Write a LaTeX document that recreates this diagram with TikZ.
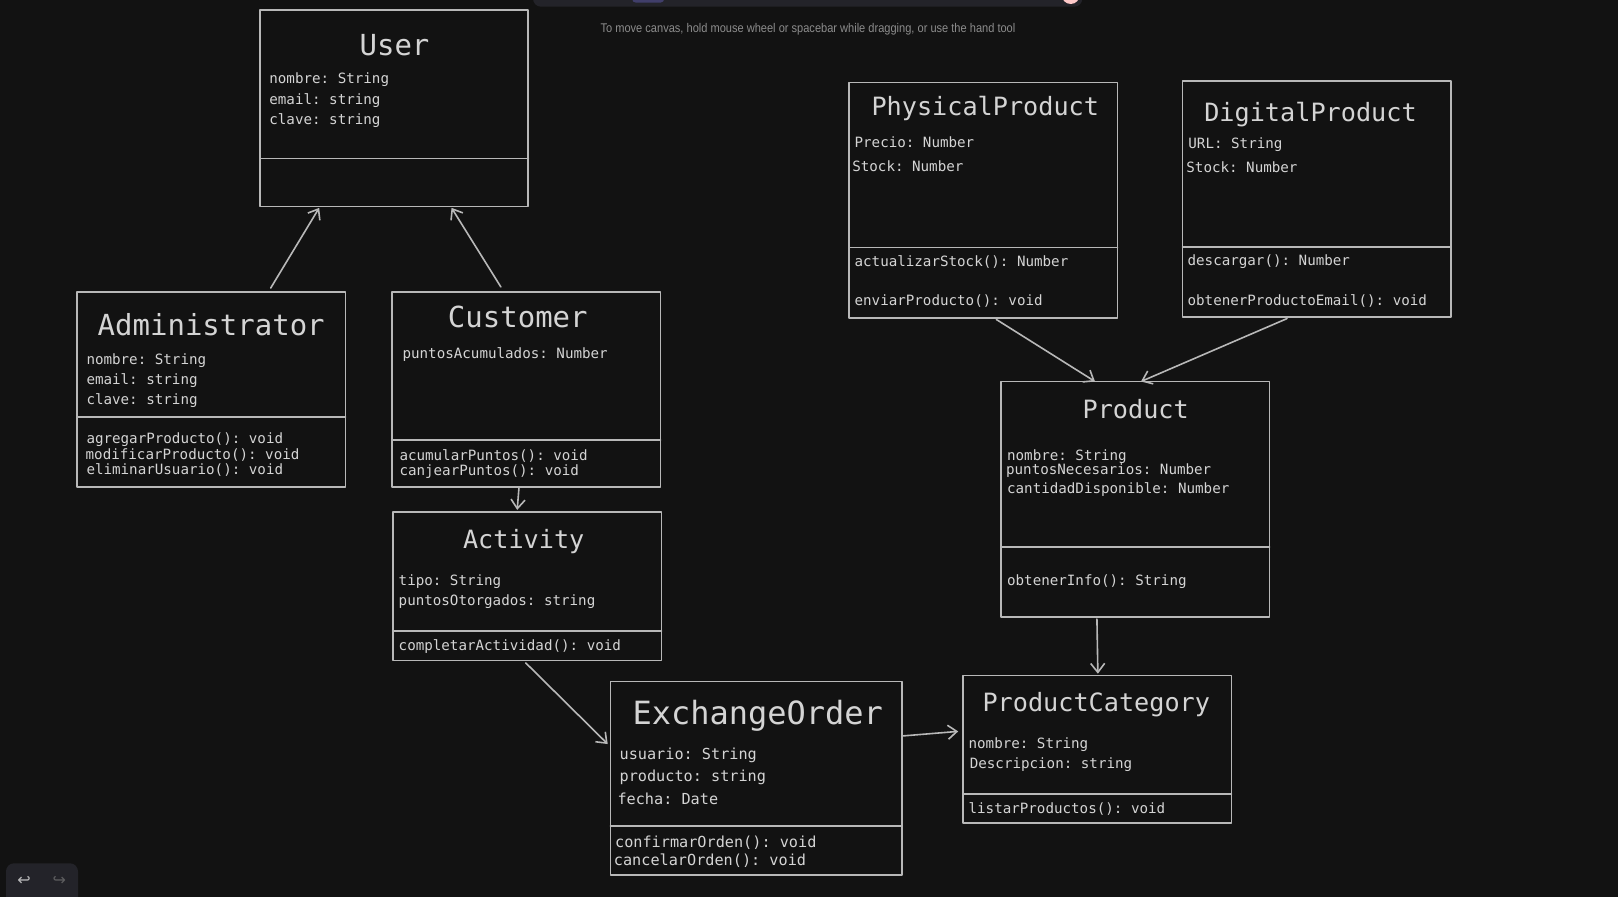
\documentclass[tikz,border=0pt]{standalone}
\usepackage{fontspec}
\setmainfont{Liberation Sans}
\setmonofont{DejaVu Sans Mono}
\newfontfamily\uifont{DejaVu Sans}
\usepackage{graphicx}
\usetikzlibrary{arrows.meta, calc}

\definecolor{canvas}{HTML}{121212}
\definecolor{uipanel}{HTML}{232329}
\definecolor{uiaccent}{HTML}{403E6A}
\definecolor{uipink}{HTML}{FFC9C9}
\definecolor{boxline}{HTML}{B8B8B8}
\definecolor{textgray}{HTML}{D4D4D4}
\definecolor{hintgray}{HTML}{8C8C8C}

\newcommand{\titlefont}{\fontsize{14.5}{16}\selectfont\ttfamily}
\newcommand{\subtitlefont}{\fontsize{12.6}{14}\selectfont\ttfamily}
\newcommand{\ordertitlefont}{\fontsize{16}{18}\selectfont\ttfamily}
\newcommand{\attrfont}{\fontsize{7.1}{8}\selectfont\ttfamily}
\newcommand{\orderattrfont}{\fontsize{7.6}{9}\selectfont\ttfamily}

\begin{document}
\begin{tikzpicture}[x=0.5pt, y=-0.5pt, >={Straight Barb[length=4.5pt,width=7pt]},
	line cap=round, line join=round,
	classbox/.style={draw=boxline, line width=0.9pt, outer sep=0pt, inner sep=0pt, minimum width=134.2pt},
	divider/.style={draw=boxline, line width=0.8pt},
	title/.style={anchor=base, inner sep=0pt, text=textgray, font=\subtitlefont},
	attr/.style={anchor=base west, inner sep=0pt, text=textgray, font=\attrfont},
	assoc/.style={->, draw=boxline, line width=0.8pt}]

% canvas
\fill[canvas] (0,0) rectangle (1618,897);
\useasboundingbox (0,0) rectangle (1618,897);

%========================
% editor chrome
%========================
\fill[uipanel, rounded corners=4pt] (533,-20) rectangle (1082.3,6.7);
\fill[uiaccent, rounded corners=2pt] (632,-10) rectangle (664.3,2.7);
\fill[uipink] (1070.7,-5) circle[radius=9];
\node[anchor=base, inner sep=0pt, text=hintgray] (hint) at (808,32.3)
	{\resizebox{207.4pt}{\height}{\fontsize{6.3}{7}\selectfont To move canvas, hold mouse wheel or spacebar while dragging, or use the hand tool}};
\fill[uipanel, rounded corners=4pt] (6,863.3) rectangle (78,910);
\node[text=textgray!85!uipanel, font=\uifont\fontsize{8}{9}\selectfont] (undo) at (24,880.7) {↩};
\node[text=hintgray!55!uipanel, font=\uifont\fontsize{8}{9}\selectfont] (redo) at (59.3,880.7) {↪};

%========================
% User hierarchy
%========================
\node[classbox, minimum height=98.1pt] (user) at (394.15,108.4) {};
\draw[divider] (user.west |- 0,158.7) -- (user.east |- 0,158.7);
\node[title, font=\titlefont] (user-t) at (394.5,55.7) {User};
\node[attr] (user-a1) at (269,83.3) {nombre: String};
\node[attr] (user-a2) at (269,104.3) {email: string};
\node[attr] (user-a3) at (269,124.3) {clave: string};

\node[classbox, minimum height=97.65pt] (admin) at (211.3,389.65) {};
\draw[divider] (admin.west |- 0,416.8) -- (admin.east |- 0,416.8);
\node[title, font=\titlefont] (admin-t) at (211.2,336) {Administrator};
\node[attr] (admin-a1) at (86.1,364.3) {nombre: String};
\node[attr] (admin-a2) at (86.1,384.3) {email: string};
\node[attr] (admin-a3) at (86.1,405) {clave: string};
\node[attr] (admin-m1) at (86.1,444) {agregarProducto(): void};
\node[attr] (admin-m2) at (85.3,459.3) {modificarProducto(): void};
\node[attr] (admin-m3) at (86.1,475) {eliminarUsuario(): void};

\node[classbox, minimum height=97.65pt] (customer) at (526.3,389.65) {};
\draw[divider] (customer.west |- 0,440.3) -- (customer.east |- 0,440.3);
\node[title, font=\titlefont] (customer-t) at (517.8,327.7) {Customer};
\node[attr] (customer-a1) at (402.2,359) {puntosAcumulados: Number};
\node[attr] (customer-m1) at (399.1,460.7) {acumularPuntos(): void};
\node[attr] (customer-m2) at (399.1,475.7) {canjearPuntos(): void};

\node[classbox, minimum height=74.1pt] (activity) at (527.3,586.4) {};
\draw[divider] (activity.west |- 0,631) -- (activity.east |- 0,631);
\node[title] (activity-t) at (523.7,548.3) {Activity};
\node[attr] (activity-a1) at (398.3,586) {tipo: String};
\node[attr] (activity-a2) at (398.3,606) {puntosOtorgados: string};
\node[attr] (activity-m1) at (398.3,650.7) {completarActividad(): void};

%========================
% Orders and products
%========================
\node[classbox, minimum width=145.8pt, minimum height=96.75pt] (exchange) at (756.2,778.25) {};
\draw[divider] (exchange.west |- 0,825.7) -- (exchange.east |- 0,825.7);
\node[title, font=\ordertitlefont] (exchange-t) at (757.8,725) {ExchangeOrder};
\node[attr, font=\orderattrfont] (exchange-a1) at (619.2,759.3) {usuario: String};
\node[attr, font=\orderattrfont] (exchange-a2) at (619.2,781.7) {producto: string};
\node[attr, font=\orderattrfont] (exchange-a3) at (617.1,805) {fecha: Date};
\node[attr, font=\orderattrfont] (exchange-m1) at (614.7,847.3) {confirmarOrden(): void};
\node[attr, font=\orderattrfont] (exchange-m2) at (613.5,865) {cancelarOrden(): void};

\node[classbox, minimum height=73.9pt] (category) at (1097.2,749.4) {};
\draw[divider] (category.west |- 0,794) -- (category.east |- 0,794);
\node[title] (category-t) at (1096.3,711.7) {ProductCategory};
\node[attr] (category-a1) at (968.2,748.3) {nombre: String};
\node[attr] (category-a2) at (969.4,768.3) {Descripcion: string};
\node[attr] (category-m1) at (968.2,813.3) {listarProductos(): void};

\node[classbox, minimum height=117.9pt] (product) at (1135.3,499.4) {};
\draw[divider] (product.west |- 0,546.8) -- (product.east |- 0,546.8);
\node[title] (product-t) at (1135.7,418.3) {Product};
\node[attr] (product-a1) at (1006.7,460.7) {nombre: String};
\node[attr] (product-a2) at (1005.7,474.3) {puntosNecesarios: Number};
\node[attr] (product-a3) at (1006.7,494) {cantidadDisponible: Number};
\node[attr] (product-m1) at (1006.7,586) {obtenerInfo(): String};

\node[classbox, minimum height=117.85pt] (physical) at (983.25,200.35) {};
\draw[divider] (physical.west |- 0,247.7) -- (physical.east |- 0,247.7);
\node[title] (physical-t) at (985.3,115.7) {PhysicalProduct};
\node[attr] (physical-a1) at (854.2,147.7) {Precio: Number};
\node[attr] (physical-a2) at (851.9,171.7) {Stock: Number};
\node[attr] (physical-m1) at (854.2,266.7) {actualizarStock(): Number};
\node[attr] (physical-m2) at (854.2,306) {enviarProducto(): void};

\node[classbox, minimum height=117.9pt] (digital) at (1316.75,199.1) {};
\draw[divider] (digital.west |- 0,246.8) -- (digital.east |- 0,246.8);
\node[title] (digital-t) at (1310.5,121.7) {DigitalProduct};
\node[attr] (digital-a1) at (1188,149) {URL: String};
\node[attr] (digital-a2) at (1186,172.7) {Stock: Number};
\node[attr] (digital-m1) at (1187.2,265.7) {descargar(): Number};
\node[attr] (digital-m2) at (1187.2,305.7) {obtenerProductoEmail(): void};

%========================
% connectors
%========================
\draw[assoc, shorten <=2.3pt, shorten >=0.8pt] (268.3,0 |- admin.north) -- (320,0 |- user.south);
\draw[assoc, shorten <=3pt, shorten >=0.8pt] (504,0 |- customer.north) -- (450.7,0 |- user.south);
\draw[assoc, shorten >=1.2pt] (519,0 |- customer.south) -- (517,0 |- activity.north);
\draw[assoc, shorten <=1.7pt, shorten >=1.9pt] (523.3,0 |- activity.south) -- (exchange.west |- 0,746.7);
\draw[assoc, shorten >=2.4pt] (exchange.east |- 0,736) -- (category.west |- 0,731);
\draw[assoc, shorten <=0.9pt, shorten >=0.9pt] (1096.9,0 |- product.south) -- (1097.9,0 |- category.north);
\draw[assoc, shorten <=1.2pt] (994.3,0 |- physical.south) -- (1095,0 |- product.north);
\draw[assoc, shorten <=2pt] (1290.7,0 |- digital.south) -- (1141,0 |- product.north);

\end{tikzpicture}
\end{document}
